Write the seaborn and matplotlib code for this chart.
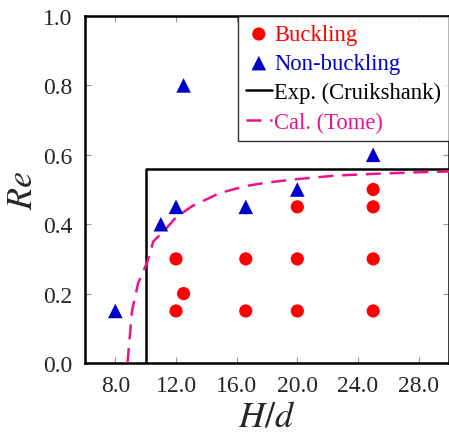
import numpy as np
import pandas as pd
import seaborn as sns
import matplotlib.pyplot as plt

# data
buck_x = [12.0, 12.0, 12.5, 16.6, 16.6, 20.0, 20.0, 20.0, 25.0, 25.0, 25.0, 25.0]
buck_y = [0.15, 0.30, 0.20, 0.15, 0.30, 0.15, 0.30, 0.45, 0.15, 0.30, 0.45, 0.50]

nonbuck_x = [8.0, 11.0, 12.0, 12.5, 16.6, 20.0, 25.0]
nonbuck_y = [0.15, 0.40, 0.45, 0.80, 0.45, 0.50, 0.60]

exp_x = [10.0, 10.0, 30.0]
exp_y = [0.0, 0.56, 0.56]

cal_x = [8.8, 9.1, 9.5, 10.1, 10.5, 11.4, 12.0, 13.1, 14.9, 16.6, 18.0, 20.0, 22.5, 25.0, 27.5, 30.0]
cal_y = [0.0, 0.15, 0.23, 0.29, 0.35, 0.39, 0.42, 0.453, 0.49, 0.51, 0.52, 0.53, 0.54, 0.545, 0.549, 0.552]

xticks = [8, 12, 16, 20, 24, 28]
yticks = [0.0, 0.2, 0.4, 0.6, 0.8, 1.0]

sns.set_style("ticks")
plt.rcParams['font.family'] = 'serif'
plt.rcParams['font.serif'] = ['Liberation Serif', 'Nimbus Roman', 'STIXGeneral', 'DejaVu Serif']
plt.rcParams['mathtext.fontset'] = 'stix'

fig = plt.figure(figsize=(4.49, 4.39), dpi=100)
ax = fig.add_axes([85 / 449, 1 - 364 / 439, 1 - 85 / 449, (364 - 17) / 439])

sns.scatterplot(x=buck_x, y=buck_y, ax=ax, color='#ff0000', marker='o', s=90,
                edgecolor='none', label='Buckling', zorder=4)
sns.scatterplot(x=nonbuck_x, y=nonbuck_y, ax=ax, color='#0000cc', marker='^', s=110,
                edgecolor='none', label='Non-buckling', zorder=4)
sns.lineplot(x=exp_x, y=exp_y, ax=ax, sort=False, estimator=None, color='black',
             linewidth=1.8, label='Exp. (Cruikshank)', zorder=3)
sns.lineplot(x=cal_x, y=cal_y, ax=ax, sort=False, estimator=None, color='#ee1289',
             linewidth=1.8, label='Cal. (Tome)', zorder=3)
ax.lines[-1].set_dashes((6, 3.5))

ax.set_xlim(6, 30)
ax.set_ylim(0, 1.0)
ax.set_xticks(xticks)
ax.set_xticklabels([f'{v:.1f}' for v in xticks])
ax.set_yticks(yticks)
ax.set_yticklabels([f'{v:.1f}' for v in yticks])
ax.tick_params(direction='in', top=True, right=True, color='#999999', length=4,
               labelsize=17, pad=9)
for sp in ax.spines.values():
    sp.set_linewidth(1.8)
    sp.set_color('black')

ax.set_xlabel('$H/d$', fontsize=26, labelpad=3)
ax.set_ylabel('$Re$', fontsize=26, labelpad=2)

leg = ax.legend(loc='upper right', borderaxespad=0, fontsize=16.3, frameon=True,
                fancybox=False, handlelength=1.15, handletextpad=0.1,
                labelspacing=0.36, borderpad=0.35)
leg.get_frame().set_edgecolor('black')
leg.get_frame().set_linewidth(1.0)
for txt, col in zip(leg.get_texts(), ['#ff0000', '#0000cc', 'black', '#ee1289']):
    txt.set_color(col)

fig.savefig('out.png', dpi=100)
